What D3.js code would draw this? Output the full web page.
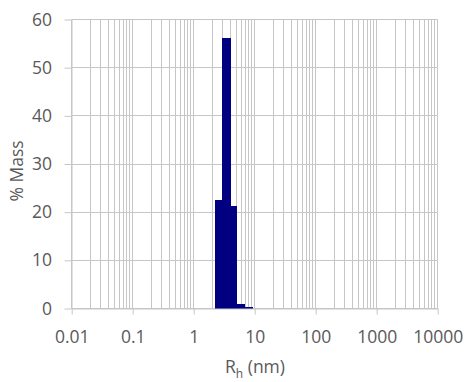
<!DOCTYPE html>
<html>
<head>
<meta charset="utf-8">
<script src="https://cdn.jsdelivr.net/npm/d3@7"></script>
<style>
  html, body { margin: 0; padding: 0; background: #ffffff; }
  svg { display: block; }
  text { font-family: "Open Sans", "Liberation Sans", sans-serif; fill: #595959; }
</style>
</head>
<body>
<svg id="chart" width="468" height="382"></svg>
<script>
// Data: histogram bin edges (nm) and % mass in each bin
const binEdges = [2.26, 2.94, 4.04, 5.07, 6.93, 9.5];
const massValues = [22.5, 56.2, 21.3, 0.9, 0.4];
const xTickValues = [0.01, 0.1, 1, 10, 100, 1000, 10000];
const xTickLabels = ["0.01", "0.1", "1", "10", "100", "1000", "10000"];
const yTickValues = [0, 10, 20, 30, 40, 50, 60];

const svg = d3.select("#chart");
const plotLeft = 71.7, plotRight = 437.7, plotTop = 19.5, plotBottom = 308.5;
const gridColor = "#c6c6c6";

const x = d3.scaleLog().domain([0.01, 10000]).range([plotLeft, plotRight]);
const y = d3.scaleLinear().domain([0, 60]).range([plotBottom, plotTop]);

// vertical log gridlines (major + minor)
const gridX = [];
for (let e = -2; e < 4; e++) {
  for (let k = 1; k <= 9; k++) gridX.push(k * Math.pow(10, e));
}
gridX.push(10000);
const crisp = v => Math.round(v - 0.5) + 0.5;

svg.append("g").selectAll("line").data(gridX).join("line")
  .attr("x1", d => crisp(x(d))).attr("x2", d => crisp(x(d)))
  .attr("y1", plotTop).attr("y2", plotBottom)
  .attr("stroke", gridColor).attr("stroke-width", 1);

// horizontal gridlines
svg.append("g").selectAll("line").data(yTickValues).join("line")
  .attr("x1", plotLeft).attr("x2", plotRight)
  .attr("y1", d => crisp(y(d))).attr("y2", d => crisp(y(d)))
  .attr("stroke", gridColor).attr("stroke-width", 1);

// bars
const bins = massValues.map((v, i) => ({ x0: binEdges[i], x1: binEdges[i + 1], v }));
svg.append("g").attr("shape-rendering", "crispEdges").selectAll("rect").data(bins).join("rect")
  .attr("x", d => Math.round(x(d.x0)))
  .attr("width", d => Math.round(x(d.x1)) - Math.round(x(d.x0)))
  .attr("y", d => Math.round(y(d.v)))
  .attr("height", d => Math.round(y(0)) - Math.round(y(d.v)))
  .attr("fill", "#000080");

// y axis
const yAxis = svg.append("g")
  .attr("transform", `translate(${crisp(plotLeft)},0)`)
  .call(d3.axisLeft(y).tickValues(yTickValues).tickSize(7).tickSizeOuter(0).tickPadding(12.5));
yAxis.selectAll("path.domain").attr("stroke", gridColor);
yAxis.selectAll(".tick line").attr("stroke", gridColor);
yAxis.selectAll("text").style("font-size", "17.5px").attr("font-family", null).attr("fill", "#595959");

// x axis
const xAxis = svg.append("g")
  .attr("transform", `translate(0,${crisp(plotBottom)})`)
  .call(d3.axisBottom(x).tickValues(xTickValues).tickFormat((d, i) => xTickLabels[i])
    .tickSize(6).tickSizeOuter(0).tickPadding(16));
xAxis.selectAll("path.domain").attr("stroke", gridColor);
xAxis.selectAll(".tick line").attr("stroke", gridColor);
xAxis.selectAll("text").style("font-size", "17.5px").attr("font-family", null).attr("fill", "#595959");

// axis titles
svg.append("text")
  .attr("transform", "translate(23,171) rotate(-90)")
  .attr("text-anchor", "middle")
  .style("font-size", "17.5px")
  .text("% Mass");

const xt = svg.append("text")
  .attr("x", 255).attr("y", 373)
  .attr("text-anchor", "middle")
  .style("font-size", "17.5px");
xt.append("tspan").text("R");
xt.append("tspan").attr("dy", 5).style("font-size", "12px").text("h");
xt.append("tspan").attr("dy", -5).text(" (nm)");
</script>
</body>
</html>
